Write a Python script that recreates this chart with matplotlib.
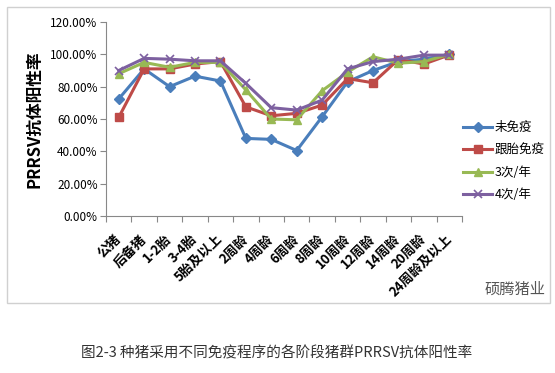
import numpy as np
import matplotlib.pyplot as plt
from matplotlib.patches import Rectangle
from matplotlib.ticker import PercentFormatter

plt.rcParams['font.family'] = ['Noto Sans CJK SC', 'DejaVu Sans']

# 数据
stages = ['公猪', '后备猪', '1-2胎', '3-4胎', '5胎及以上', '2周龄', '4周龄', '6周龄',
          '8周龄', '10周龄', '12周龄', '14周龄', '20周龄', '24周龄及以上']
no_vacc = [72.4, 91, 80, 86.5, 83.5, 48, 47.4, 40.5, 61.4, 83, 90, 95.5, 97, 100]
follow = [61, 91, 91, 94, 95.5, 67.5, 62, 63.5, 68.6, 85, 82.4, 96.8, 94, 99.6]
three_yr = [88, 95, 92, 95, 95, 78, 60, 59.5, 77.5, 89, 98.5, 94.5, 95.5, 100]
four_yr = [90, 97.5, 97, 96, 96, 82, 67, 65.5, 71.7, 91, 95.5, 97, 99.5, 99.5]
labels = ['未免疫', '跟胎免疫', '3次/年', '4次/年']

fig = plt.figure(figsize=(5.55, 3.73), dpi=100)
W, H = 555, 373
ax = fig.add_axes([106 / W, 1 - 216 / H, 356 / W, 194 / H])

x = np.arange(len(stages))
ax.plot(x, no_vacc, color='#4a7ebb', marker='D', ms=5, lw=2.2, label=labels[0])
ax.plot(x, follow, color='#be4b48', marker='s', ms=6, lw=2.2, label=labels[1])
ax.plot(x, three_yr, color='#98b954', marker='^', ms=6, lw=2.2, label=labels[2])
ax.plot(x, four_yr, color='#7d60a0', marker='x', ms=6, mew=1.2, lw=2.2, label=labels[3])

ax.set_xlim(-0.5, len(stages) - 0.5)
ax.set_ylim(0, 120)
ax.set_yticks(np.arange(0, 121, 20))
ax.yaxis.set_major_formatter(PercentFormatter(decimals=2))
ax.set_xticks(np.arange(-0.5, len(stages), 1), minor=False)
ax.set_xticklabels([])
ax.set_xticks(x, minor=True)
ax.set_xticklabels(stages, minor=True, rotation=45, ha='right', va='center',
                   rotation_mode='anchor', fontsize=9.5, fontweight='bold')
ax.tick_params(axis='x', which='minor', length=0, pad=15)
ax.tick_params(axis='x', which='major', length=4, direction='out', color='#888888')
ax.tick_params(axis='y', length=4, color='#888888', labelsize=8.5, pad=2)
for s in ['top', 'right']:
    ax.spines[s].set_visible(False)
for s in ['left', 'bottom']:
    ax.spines[s].set_color('#888888')
ax.set_ylabel('PRRSV抗体阳性率', fontsize=12, fontweight='bold', labelpad=5)

ax.legend(loc='upper left', bbox_to_anchor=(452 / W, 1 - 110 / H), bbox_transform=fig.transFigure,
          frameon=False, fontsize=9, handlelength=2.3, labelspacing=0.75, handletextpad=0.2)

fig.patches.append(Rectangle((7 / W, 1 - 303 / H), 543 / W, 296 / H, transform=fig.transFigure,
                             fill=False, edgecolor='#d0d0d0', lw=1))
fig.text(515 / W, 1 - 289 / H, '硕腾猪业', fontsize=11, color='#555555', ha='center', va='center')
fig.text(277 / W, 1 - 353 / H, '图2-3 种猪采用不同免疫程序的各阶段猪群PRRSV抗体阳性率',
         fontsize=10.5, color='#333333', ha='center', va='center')

fig.savefig('out.png', dpi=100)
